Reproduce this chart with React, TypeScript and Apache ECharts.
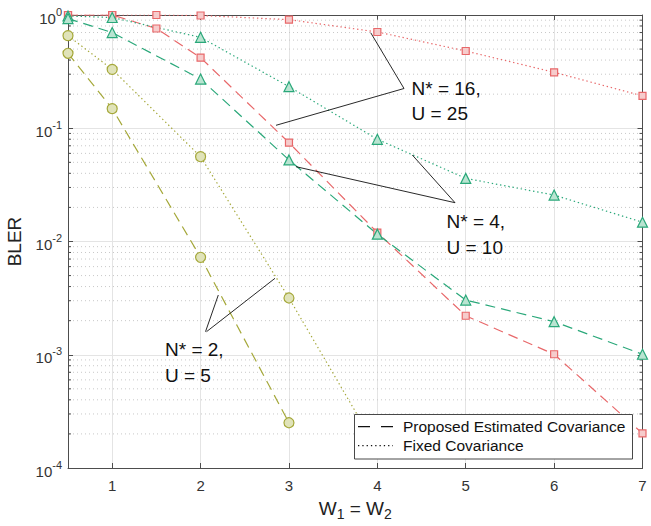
import React, { useEffect, useRef } from "react";
import * as echarts from "echarts";

// ---- data ----
const xRed = [0.5, 1, 1.5, 2, 3, 4, 5, 6, 7];
const redFixed = [1.0, 1.0, 1.0, 0.99, 0.91, 0.708, 0.481, 0.312, 0.193];
const redProposed = [1.0, 1.0, 0.76, 0.42, 0.0746, 0.012, 0.00221, 0.00101, 0.000202];

const xGreen = [0.5, 1, 2, 3, 4, 5, 6, 7];
const greenProposed = [0.93, 0.7, 0.272, 0.0525, 0.0116, 0.00304, 0.00196, 0.00101];
const greenFixed = [0.98, 0.95, 0.635, 0.233, 0.0799, 0.0361, 0.0257, 0.0148];

const xOliveProposed = [0.5, 1, 2, 3];
const oliveProposed = [0.459, 0.149, 0.00725, 0.000251];
const xOliveFixed = [0.5, 1, 2, 3, 4];
const oliveFixed = [0.657, 0.331, 0.0561, 0.00317, 0.000147];

const decadeExponents = [-4, -3, -2, -1];
const minorMultipliers = [2, 3, 4, 5, 6, 7, 8, 9];

const legendLabels = ["Proposed Estimated Covariance", "Fixed Covariance"];

const FONT = "Liberation Sans";
const AXIS_COLOR = "#4d4d4d";
const TEXT_COLOR = "#333333";

const RED = "#e8686a";
const RED_FILL = "#f6cccc";
const GREEN = "#2aa87a";
const GREEN_FILL = "#b9e4d1";
const OLIVE = "#a5a83a";
const OLIVE_FILL = "#e0e3b9";

const DASHED = [10, 6];
const DOTTED = [1.4, 2.8];

function pairs(xs: number[], ys: number[]) {
  return xs.map((x, i) => [x, ys[i]]);
}

function lineSeries(
  name: string,
  data: number[][],
  color: string,
  fill: string,
  symbol: string,
  size: number,
  dash: number[]
) {
  return {
    type: "line",
    name,
    data,
    symbol,
    symbolSize: size,
    showSymbol: true,
    showAllSymbol: true,
    lineStyle: { color, width: 1.2, type: dash },
    itemStyle: { color: fill, borderColor: color, borderWidth: 1.2 },
    z: 3,
    silent: true,
  };
}

export default function App() {
  const ref = useRef<HTMLDivElement>(null);

  useEffect(() => {
    if (!ref.current) return;
    const chart = echarts.init(ref.current, undefined, { renderer: "svg" });

    const minorValues: number[] = [];
    decadeExponents.forEach((e) =>
      minorMultipliers.forEach((m) => minorValues.push(m * Math.pow(10, e)))
    );

    const supLabel = (v: number) => {
      const e = Math.round(Math.log10(v));
      return `{b|10}{s|${e}}`;
    };

    const textLine = (x1: number, y1: number, x2: number, y2: number) => ({
      type: "line",
      z: 50,
      shape: { x1, y1, x2, y2 },
      style: { stroke: "#111", lineWidth: 0.9 },
    });
    const annText = (text: string, x: number, y: number) => ({
      type: "text",
      z: 50,
      x,
      y,
      style: {
        text,
        fill: "#111",
        font: `19px "${FONT}"`,
        verticalAlign: "middle",
        align: "left",
      },
    });

    const option: any = {
      animation: false,
      backgroundColor: "#ffffff",
      textStyle: { fontFamily: FONT },
      grid: {
        left: 68,
        right: 8.5,
        top: 15,
        bottom: 58,
        containLabel: false,
        outerBoundsMode: "none",
      },
      xAxis: [
        {
          type: "value",
          min: 0.5,
          max: 7,
          name: "{w|W}{sub|1}{w| = W}{sub|2}",
          nameLocation: "middle",
          nameGap: 27,
          nameTextStyle: {
            rich: {
              w: { fontSize: 19, color: "#222", fontFamily: FONT, lineHeight: 26, verticalAlign: "middle" },
              sub: { fontSize: 14, color: "#222", fontFamily: FONT, lineHeight: 14, verticalAlign: "bottom" },
            },
          },
          axisLine: { show: true, onZero: false, lineStyle: { color: AXIS_COLOR, width: 1 } },
          axisTick: { show: true, inside: true, length: 5, lineStyle: { color: AXIS_COLOR } },
          axisLabel: {
            color: TEXT_COLOR,
            fontSize: 15,
            margin: 10,
            fontFamily: FONT,
            formatter: (v: number) => (Number.isInteger(v) ? String(v) : ""),
          },
          splitLine: { show: true, lineStyle: { color: "#e4e4e4", width: 1 } },
        },
        {
          type: "value",
          position: "top",
          min: 0.5,
          max: 7,
          axisLine: { show: true, onZero: false, lineStyle: { color: AXIS_COLOR, width: 1 } },
          axisTick: { show: true, inside: true, length: 5, lineStyle: { color: AXIS_COLOR } },
          axisLabel: { show: false },
          splitLine: { show: false },
        },
      ],
      yAxis: [
        {
          type: "log",
          logBase: 10,
          min: 1e-4,
          max: 1,
          name: "BLER",
          nameLocation: "middle",
          nameGap: 44,
          nameTextStyle: { fontSize: 19, color: "#222", fontFamily: FONT },
          axisLine: { show: true, onZero: false, lineStyle: { color: AXIS_COLOR, width: 1 } },
          axisTick: { show: true, inside: true, length: 5, lineStyle: { color: AXIS_COLOR } },
          axisLabel: {
            margin: 6,
            padding: [6, 0, 0, 0],
            formatter: supLabel,
            rich: {
              b: { fontSize: 15, color: TEXT_COLOR, fontFamily: FONT, lineHeight: 24, verticalAlign: "middle" },
              s: { fontSize: 11, color: TEXT_COLOR, fontFamily: FONT, lineHeight: 11, verticalAlign: "top" },
            },
          },
          splitLine: { show: true, lineStyle: { color: "#e4e4e4", width: 1 } },
        },
        {
          type: "log",
          logBase: 10,
          min: 1e-4,
          max: 1,
          position: "right",
          axisLine: { show: true, onZero: false, lineStyle: { color: AXIS_COLOR, width: 1 } },
          axisTick: { show: true, inside: true, length: 5, lineStyle: { color: AXIS_COLOR } },
          axisLabel: { show: false },
          splitLine: { show: false },
        },
      ],
      series: [
        {
          type: "custom",
          xAxisIndex: 0,
          yAxisIndex: 0,
          silent: true,
          z: 1,
          clip: false,
          data: minorValues.map((v) => [0.5, v]),
          renderItem: (_params: any, api: any) => {
            const v = api.value(1);
            const a = api.coord([0.5, v]);
            const b = api.coord([7, v]);
            return {
              type: "group",
              children: [
                {
                  type: "line",
                  shape: { x1: a[0] + 1, y1: a[1], x2: b[0] - 1, y2: b[1] },
                  style: { stroke: "#c8c8c8", lineWidth: 1, lineDash: [1, 3] },
                },
                {
                  type: "line",
                  shape: { x1: a[0], y1: a[1], x2: a[0] + 3, y2: a[1] },
                  style: { stroke: AXIS_COLOR, lineWidth: 1 },
                },
                {
                  type: "line",
                  shape: { x1: b[0] - 3, y1: b[1], x2: b[0], y2: b[1] },
                  style: { stroke: AXIS_COLOR, lineWidth: 1 },
                },
              ],
            };
          },
        },
        lineSeries("N16 fixed", pairs(xRed, redFixed), RED, RED_FILL, "rect", 7, DOTTED),
        lineSeries("N16 proposed", pairs(xRed, redProposed), RED, RED_FILL, "rect", 7, DASHED),
        lineSeries("N4 fixed", pairs(xGreen, greenFixed), GREEN, GREEN_FILL, "triangle", 10, DOTTED),
        lineSeries("N4 proposed", pairs(xGreen, greenProposed), GREEN, GREEN_FILL, "triangle", 10, DASHED),
        lineSeries("N2 fixed", pairs(xOliveFixed, oliveFixed), OLIVE, OLIVE_FILL, "circle", 10, DOTTED),
        lineSeries("N2 proposed", pairs(xOliveProposed, oliveProposed), OLIVE, OLIVE_FILL, "circle", 10, DASHED),
      ],
      graphic: [
        // annotations
        textLine(404, 88.5, 370.7, 32.7),
        textLine(404, 88.5, 276, 125.3),
        annText("N* = 16,", 411.5, 88.5),
        annText("U = 25", 411.5, 113.5),
        textLine(455, 202.7, 412.3, 155),
        textLine(455, 202.7, 296, 166.7),
        annText("N* = 4,", 446.5, 221.5),
        annText("U = 10", 446.5, 247.5),
        textLine(205.5, 331.7, 218.3, 295),
        textLine(206.5, 331.7, 275, 278.3),
        annText("N* = 2,", 165, 349),
        annText("U = 5", 165, 375),
        // legend
        {
          type: "rect",
          z: 60,
          shape: { x: 354.5, y: 414.5, width: 278, height: 44.5 },
          style: { fill: "#ffffff", stroke: "#333", lineWidth: 0.9 },
        },
        {
          type: "line",
          z: 61,
          shape: { x1: 358, y1: 426.7, x2: 393, y2: 426.7 },
          style: { stroke: "#111", lineWidth: 1.2, lineDash: [12, 11] },
        },
        {
          type: "line",
          z: 61,
          shape: { x1: 358, y1: 445.7, x2: 393, y2: 445.7 },
          style: { stroke: "#111", lineWidth: 1.2, lineDash: [1.3, 3] },
        },
        {
          type: "text",
          z: 61,
          x: 403,
          y: 426.7,
          style: { text: legendLabels[0], fill: "#111", font: `15.5px "${FONT}"`, verticalAlign: "middle" },
        },
        {
          type: "text",
          z: 61,
          x: 403,
          y: 445.7,
          style: { text: legendLabels[1], fill: "#111", font: `15.5px "${FONT}"`, verticalAlign: "middle" },
        },
      ],
    };

    chart.setOption(option);
    return () => chart.dispose();
  }, []);

  return (
    <div
      ref={ref}
      style={{ position: "fixed", left: 0, top: 0, width: 651, height: 526, background: "#fff" }}
    />
  );
}
